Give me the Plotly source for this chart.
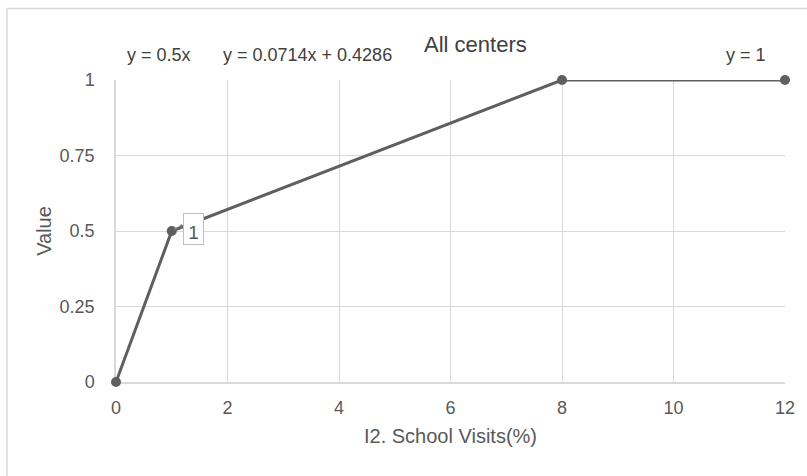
import plotly.graph_objects as go

x_vals = [0, 1, 8, 12]
y_vals = [0, 0.5, 1, 1]
x_ticks = [0, 2, 4, 6, 8, 10, 12]
y_ticks = [0, 0.25, 0.5, 0.75, 1]
y_tick_text = ["0", "0.25", "0.5", "0.75", "1"]
trend_labels = ["y = 0.5x", "y = 0.0714x + 0.4286", "y = 1"]
trend_label_x = [0.771, 3.435, 11.30]
title = "All centers"
x_title = "I2. School Visits(%)"
y_title = "Value"
point_label = "1"

FONT = "Liberation Sans, Arial, sans-serif"
TXT = "#595959"
GRID = "#d9d9d9"
LINE = "#5f5f5f"
X_MAX = 12

fig = go.Figure()
fig.add_trace(go.Scatter(
    x=x_vals, y=y_vals, mode="lines+markers",
    line=dict(color=LINE, width=3),
    marker=dict(color=LINE, size=10),
    cliponaxis=False, showlegend=False, hoverinfo="skip"))

annotations = []
for t, tx in zip(trend_labels, trend_label_x):
    annotations.append(dict(x=tx / X_MAX, y=1.084, xref="paper", yref="paper", text=t,
                            xanchor="center", yanchor="middle",
                            showarrow=False, font=dict(size=18, color="#404040", family=FONT)))
annotations.append(dict(x=6.44 / X_MAX, y=1.118, xref="paper", yref="paper", text=title,
                        xanchor="center", yanchor="middle",
                        showarrow=False, font=dict(size=22, color="#404040", family=FONT)))
annotations.append(dict(x=1.39, y=0.505, xref="x", yref="y", text=point_label, showarrow=False,
                        xanchor="center", yanchor="middle",
                        font=dict(size=19, color=TXT, family=FONT),
                        bgcolor="white", bordercolor="#bfbfbf", borderwidth=1,
                        width=17, height=28, borderpad=1, valign="bottom"))

shapes = [
    dict(type="rect", xref="paper", yref="paper", x0=-0.163, x1=2, y0=-1, y1=1.2368,
         line=dict(color=GRID, width=1.5), fillcolor="rgba(0,0,0,0)", layer="below"),
    dict(type="line", xref="x", yref="y", x0=1.05, y0=0.505, x1=1.22, y1=0.525,
         line=dict(color="#888888", width=1.5, dash="dot")),
]

fig.update_layout(
    width=807, height=476,
    margin=dict(l=116, r=22, t=80, b=94),
    paper_bgcolor="white", plot_bgcolor="white",
    font=dict(family=FONT, color=TXT, size=18),
    annotations=annotations, shapes=shapes,
    xaxis=dict(range=[0, X_MAX], tickvals=x_ticks, showgrid=True, gridcolor=GRID,
               zeroline=False, showline=True, linecolor=GRID, linewidth=1.5,
               ticks="", ticklabelstandoff=9, layer="below traces",
               tickfont=dict(size=18, color=TXT, family=FONT),
               title=dict(text=x_title, font=dict(size=20, color=TXT), standoff=12)),
    yaxis=dict(range=[0, 1], tickvals=y_ticks, ticktext=y_tick_text, showgrid=True,
               gridcolor=GRID, zeroline=False, showline=True, linecolor=GRID, linewidth=1.5,
               ticks="", ticklabelstandoff=16, layer="below traces",
               tickfont=dict(size=18, color=TXT, family=FONT),
               title=dict(text=y_title, font=dict(size=20, color=TXT), standoff=3)),
)

fig.write_html("out.html")
